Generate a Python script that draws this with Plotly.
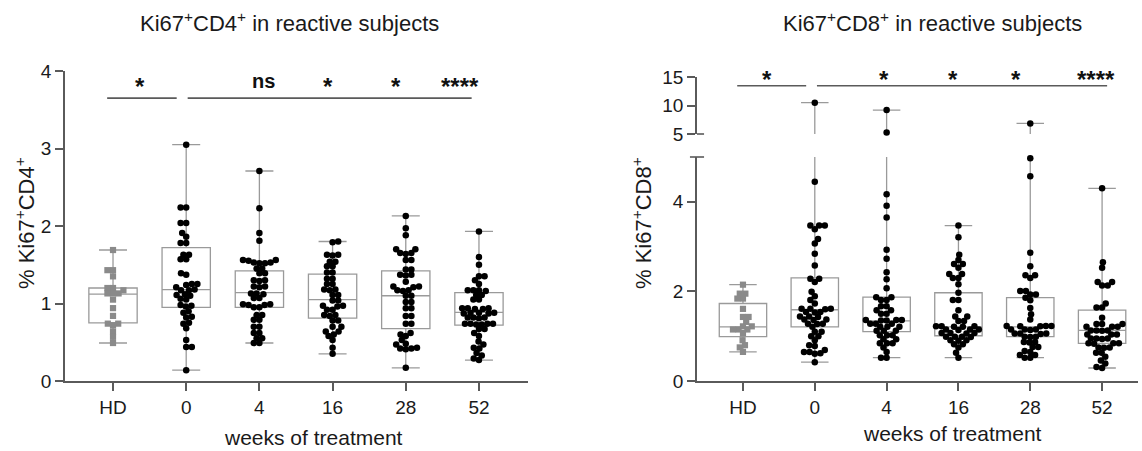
import plotly.graph_objects as go

# ---------------- data ----------------
categories = ["HD", "0", "4", "16", "28", "52"]

# Ki67+CD4+ (%)
cd4_hd = [1.69, 1.43, 1.43, 1.35, 1.20, 1.20, 1.17, 1.13, 1.13, 1.13, 1.05, 0.94, 0.84, 0.74, 0.74, 0.72, 0.64, 0.57, 0.49]
cd4_w0 = [3.05, 2.24, 2.24, 2.04, 2.04, 1.91, 1.86, 1.78, 1.78, 1.63, 1.63, 1.57, 1.57, 1.39, 1.37, 1.25, 1.25, 1.24, 1.21,
          1.18, 1.17, 1.17, 1.12, 1.11, 1.10, 1.06, 1.05, 0.98, 0.97, 0.96, 0.90, 0.88, 0.83, 0.82, 0.75, 0.74, 0.68,
          0.53, 0.44, 0.44, 0.14]
cd4_w4 = [2.71, 2.23, 1.91, 1.81, 1.56, 1.56, 1.55, 1.53, 1.53, 1.52, 1.52, 1.45, 1.45, 1.39, 1.39, 1.30, 1.30, 1.29,
          1.22, 1.22, 1.21, 1.13, 1.13, 1.12, 1.07, 1.07, 0.99, 0.99, 0.98, 0.98, 0.95, 0.95, 0.85, 0.85, 0.79, 0.79,
          0.70, 0.70, 0.62, 0.62, 0.55, 0.55, 0.49, 0.49]
cd4_w16 = [1.80, 1.79, 1.63, 1.63, 1.62, 1.54, 1.54, 1.48, 1.48, 1.40, 1.40, 1.32, 1.32, 1.25, 1.25, 1.18, 1.18, 1.17,
           1.11, 1.11, 1.04, 1.04, 0.97, 0.97, 0.96, 0.92, 0.92, 0.85, 0.85, 0.84, 0.78, 0.78, 0.70, 0.70, 0.64, 0.64,
           0.60, 0.58, 0.53, 0.43, 0.35]
cd4_w28 = [2.13, 1.97, 1.88, 1.70, 1.70, 1.65, 1.65, 1.64, 1.56, 1.56, 1.44, 1.44, 1.37, 1.37, 1.36, 1.28, 1.22, 1.22,
           1.21, 1.17, 1.17, 1.16, 1.10, 1.10, 1.02, 1.02, 0.94, 0.94, 0.84, 0.84, 0.74, 0.74, 0.62, 0.60, 0.58, 0.53,
           0.48, 0.47, 0.43, 0.42, 0.42, 0.41, 0.17]
cd4_w52 = [1.93, 1.60, 1.50, 1.35, 1.35, 1.30, 1.25, 1.17, 1.17, 1.17, 1.16, 1.11, 1.11, 1.05, 1.05, 0.94, 0.94, 0.94,
           0.93, 0.93, 0.88, 0.88, 0.88, 0.87, 0.87, 0.82, 0.82, 0.82, 0.81, 0.74, 0.74, 0.74, 0.74, 0.73, 0.73, 0.67,
           0.67, 0.62, 0.58, 0.51, 0.47, 0.43, 0.42, 0.36, 0.33, 0.29, 0.27]
cd4_q1 = [0.75, 0.95, 0.95, 0.81, 0.675, 0.72]
cd4_median = [1.12, 1.18, 1.14, 1.05, 1.10, 0.886]
cd4_q3 = [1.20, 1.72, 1.42, 1.38, 1.42, 1.14]
cd4_min = [0.49, 0.14, 0.49, 0.35, 0.17, 0.27]
cd4_max = [1.69, 3.05, 2.71, 1.80, 2.13, 1.93]

# Ki67+CD8+ (%)
cd8_hd = [2.15, 1.95, 1.95, 1.84, 1.84, 1.61, 1.43, 1.43, 1.32, 1.22, 1.22, 1.15, 1.15, 1.15, 1.07, 0.91, 0.80, 0.75, 0.65]
cd8_w0 = [10.5, 4.45, 3.47, 3.47, 3.47, 3.39, 3.17, 3.07, 2.84, 2.58, 2.28, 2.28, 2.21, 1.99, 1.89, 1.81, 1.73, 1.61,
          1.61, 1.61, 1.60, 1.54, 1.54, 1.53, 1.44, 1.44, 1.43, 1.37, 1.37, 1.36, 1.28, 1.28, 1.27, 1.21, 1.10, 1.10,
          1.00, 1.00, 0.91, 0.80, 0.78, 0.69, 0.65, 0.65, 0.62, 0.61, 0.42]
cd8_w4 = [9.2, 5.25, 4.17, 3.91, 3.65, 2.93, 2.73, 2.43, 2.27, 2.07, 1.87, 1.87, 1.81, 1.81, 1.67, 1.67, 1.58, 1.58,
          1.50, 1.50, 1.36, 1.36, 1.36, 1.35, 1.35, 1.28, 1.28, 1.28, 1.21, 1.21, 1.21, 1.12, 1.12, 1.12, 1.02, 1.02,
          1.02, 0.93, 0.93, 0.84, 0.84, 0.84, 0.75, 0.65, 0.52, 0.52]
cd8_w16 = [3.47, 3.21, 2.82, 2.70, 2.61, 2.61, 2.53, 2.39, 2.39, 2.30, 2.30, 2.16, 1.97, 1.81, 1.81, 1.58, 1.44, 1.44,
           1.34, 1.34, 1.22, 1.22, 1.22, 1.21, 1.21, 1.15, 1.15, 1.15, 1.14, 1.07, 1.07, 1.07, 1.06, 0.99, 0.99, 0.99,
           0.98, 0.91, 0.91, 0.90, 0.82, 0.82, 0.75, 0.63, 0.52]
cd8_w28 = [6.85, 4.97, 4.57, 2.86, 2.56, 2.36, 2.36, 2.30, 2.01, 2.01, 1.93, 1.93, 1.86, 1.80, 1.63, 1.49, 1.37, 1.23,
           1.23, 1.23, 1.22, 1.22, 1.15, 1.15, 1.15, 1.14, 1.06, 1.06, 1.06, 1.05, 0.99, 0.99, 0.98, 0.87, 0.87, 0.86,
           0.76, 0.76, 0.67, 0.65, 0.58, 0.58, 0.52, 0.52]
cd8_w52 = [4.30, 2.65, 2.53, 2.21, 2.21, 2.13, 2.13, 1.73, 1.64, 1.64, 1.41, 1.27, 1.27, 1.27, 1.21, 1.21, 1.21, 1.13,
           1.13, 1.13, 1.12, 1.04, 1.04, 1.04, 0.95, 0.95, 0.95, 0.94, 0.84, 0.84, 0.84, 0.83, 0.75, 0.75, 0.74, 0.63,
           0.63, 0.54, 0.46, 0.39, 0.31, 0.29]
cd8_q1 = [0.99, 1.21, 1.10, 1.01, 0.99, 0.84]
cd8_median = [1.21, 1.59, 1.34, 1.21, 1.21, 1.13]
cd8_q3 = [1.73, 2.30, 1.87, 1.97, 1.86, 1.58]
cd8_min = [0.65, 0.42, 0.52, 0.52, 0.52, 0.29]
cd8_max = [2.15, 10.5, 9.2, 3.47, 6.85, 4.30]

# significance bars (x from, x to) and labels
cd4_bars = [(-0.08, 0.87), (1.02, 4.90)]
cd4_sig_x = [0.37, 2.05, 2.94, 3.87, 4.74]
cd4_sig_text = ["*", "ns", "*", "*", "****"]
cd8_bars = [(-0.08, 0.88), (1.03, 5.07)]
cd8_sig_x = [0.33, 1.96, 2.92, 3.80, 4.92]
cd8_sig_text = ["*", "*", "*", "*", "****"]

# ---------------- layout geometry ----------------
W, H = 1142, 451
FONT = "Arial, Liberation Sans, Helvetica, sans-serif"
AX = "#5a5a5a"
BOXC = "#9a9a9a"


def px_y(p):
    return (H - p) / H


L_XDOM = [65 / W, 528 / W]
L_XRANGE = [-0.656, 5.67]
L_YDOM = [px_y(381), px_y(71)]
L_YRANGE = [0, 4]

R_XDOM = [697 / W, 1138 / W]
R_XRANGE = [-0.64, 5.5]
R_YDOM_LO = [px_y(381), px_y(157)]
R_YRANGE_LO = [0, 5]
R_YDOM_HI = [px_y(134), px_y(77)]
R_YRANGE_HI = [5, 15]


def scale(dom, rng, total):
    return (dom[1] - dom[0]) * total / (rng[1] - rng[0])


def swarm(vals, sx, sy, d=5.4, step=0.4):
    """beeswarm horizontal offsets (data units) for values"""
    order = sorted(range(len(vals)), key=lambda i: vals[i])
    placed = []
    offs = [0.0] * len(vals)
    flip = 1
    for i in order:
        yp = vals[i] * sy
        k = 0
        while True:
            cands = [0.0] if k == 0 else [flip * k * step, -flip * k * step]
            ok = None
            for c in cands:
                if all((c - px) ** 2 + (yp - py) ** 2 >= d * d for px, py in placed):
                    ok = c
                    break
            if ok is not None:
                break
            k += 1
        placed.append((ok, yp))
        offs[i] = ok / sx
        flip = -flip
    return offs


fig = go.Figure()


def add_panel(groups, q1, med, q3, lo, hi, xa, ya, xdom, xrng, ydom, yrng, ya_hi=None, ydom_hi=None, yrng_hi=None):
    sx = scale(xdom, xrng, W)
    sy = scale(ydom, yrng, H)
    sy_hi = scale(ydom_hi, yrng_hi, H) if ya_hi else None
    pos = list(range(len(categories)))
    box = dict(x=pos, q1=q1, median=med, q3=q3, lowerfence=lo, upperfence=hi, boxpoints=False,
               width=0.66, whiskerwidth=0.58, line=dict(color=BOXC, width=1.3),
               fillcolor="rgba(255,255,255,0)", hoverinfo="skip", showlegend=False)
    fig.add_trace(go.Box(xaxis=xa, yaxis=ya, **box))
    if ya_hi:
        fig.add_trace(go.Box(xaxis=xa, yaxis=ya_hi, **box))
    for gi, vals in enumerate(groups):
        if ya_hi:
            low_vals = [v for v in vals if v <= yrng[1]]
            high_vals = [v for v in vals if v > yrng[1]]
        else:
            low_vals, high_vals = vals, []
        offs = swarm(low_vals, sx, sy)
        hd = gi == 0
        mk = dict(symbol="square" if hd else "circle", size=6.2 if hd else 6.5,
                  color="#8a8a8a" if hd else "#000000", line=dict(width=0))
        fig.add_trace(go.Scatter(x=[gi + o for o in offs], y=low_vals, mode="markers", marker=mk,
                                 xaxis=xa, yaxis=ya, cliponaxis=False, showlegend=False, hoverinfo="y"))
        if high_vals:
            offs_h = swarm(high_vals, sx, sy_hi)
            fig.add_trace(go.Scatter(x=[gi + o for o in offs_h], y=high_vals, mode="markers", marker=mk,
                                     xaxis=xa, yaxis=ya_hi, cliponaxis=False, showlegend=False, hoverinfo="y"))


add_panel([cd4_hd, cd4_w0, cd4_w4, cd4_w16, cd4_w28, cd4_w52], cd4_q1, cd4_median, cd4_q3, cd4_min, cd4_max,
          "x", "y", L_XDOM, L_XRANGE, L_YDOM, L_YRANGE)
add_panel([cd8_hd, cd8_w0, cd8_w4, cd8_w16, cd8_w28, cd8_w52], cd8_q1, cd8_median, cd8_q3, cd8_min, cd8_max,
          "x2", "y2", R_XDOM, R_XRANGE, R_YDOM_LO, R_YRANGE_LO, "y3", R_YDOM_HI, R_YRANGE_HI)

axis_common = dict(showline=True, linecolor=AX, linewidth=1.6, ticks="outside", ticklen=8, tickwidth=1.6,
                   tickcolor=AX, showgrid=False, zeroline=False, tickfont=dict(family=FONT, size=19, color="#1a1a1a"))

fig.update_layout(
    width=W, height=H, margin=dict(l=0, r=0, t=0, b=0, autoexpand=False),
    paper_bgcolor="white", plot_bgcolor="white", showlegend=False,
    xaxis=dict(domain=L_XDOM, range=L_XRANGE, anchor="y", tickvals=list(range(6)), ticktext=categories,
               **axis_common),
    yaxis=dict(domain=L_YDOM, range=L_YRANGE, anchor="x", tickvals=[0, 1, 2, 3, 4], **axis_common),
    xaxis2=dict(domain=R_XDOM, range=R_XRANGE, anchor="y2", tickvals=list(range(6)), ticktext=categories,
                **axis_common),
    yaxis2=dict(domain=R_YDOM_LO, range=R_YRANGE_LO, anchor="x2", tickvals=[0, 2, 4], **axis_common),
    yaxis3=dict(domain=R_YDOM_HI, range=R_YRANGE_HI, anchor="x2", tickvals=[5, 10, 15], **axis_common),
)

shapes = []
for x0, x1 in cd4_bars:
    shapes.append(dict(type="line", xref="x", yref="y", x0=x0, x1=x1, y0=3.65, y1=3.65,
                       line=dict(color=AX, width=1.6)))
for x0, x1 in cd8_bars:
    shapes.append(dict(type="line", xref="x2", yref="y3", x0=x0, x1=x1, y0=13.46, y1=13.46,
                       line=dict(color=AX, width=1.6)))
# axis-break marks
shapes.append(dict(type="line", xref="x2 domain", yref="y2 domain", x0=-0.016, x1=0.016, y0=1, y1=1,
                   line=dict(color=AX, width=1.6)))
shapes.append(dict(type="line", xref="x2 domain", yref="y3 domain", x0=0, x1=0.016, y0=0, y1=0,
                   line=dict(color=AX, width=1.6)))
fig.update_layout(shapes=shapes)

ann = []
for x, t in zip(cd4_sig_x, cd4_sig_text):
    ann.append(dict(x=x, y=3.80 if t != "ns" else 3.87, xref="x", yref="y", text="<b>%s</b>" % t, showarrow=False,
                    font=dict(family=FONT, size=24 if t != "ns" else 20, color="#111"),
                    xanchor="center", yanchor="middle"))
for x, t in zip(cd8_sig_x, cd8_sig_text):
    ann.append(dict(x=x, y=14.6, xref="x2", yref="y3", text="<b>%s</b>" % t, showarrow=False,
                    font=dict(family=FONT, size=24, color="#111"), xanchor="center", yanchor="middle"))

titles = [
    ("Ki67<sup>+</sup>CD4<sup>+</sup> in reactive subjects", 289, 22, 0, 22),
    ("Ki67<sup>+</sup>CD8<sup>+</sup> in reactive subjects", 932, 22, 0, 22),
    ("weeks of treatment", 313, 437, 0, 21),
    ("weeks of treatment", 952, 433, 0, 21),
    ("% Ki67<sup>+</sup>CD4<sup>+</sup>", 25, 223, -90, 22),
    ("% Ki67<sup>+</sup>CD8<sup>+</sup>", 642, 223, -90, 22),
]
for t, xp, yp, ang, fs in titles:
    ann.append(dict(x=xp / W, y=px_y(yp), xref="paper", yref="paper", text=t, showarrow=False, textangle=ang,
                    font=dict(family=FONT, size=fs, color="#1a1a1a"), xanchor="center", yanchor="middle"))
fig.update_layout(annotations=ann)

fig.write_html("out.html", config={"displayModeBar": False},
               post_script="document.body.style.margin='0';")
